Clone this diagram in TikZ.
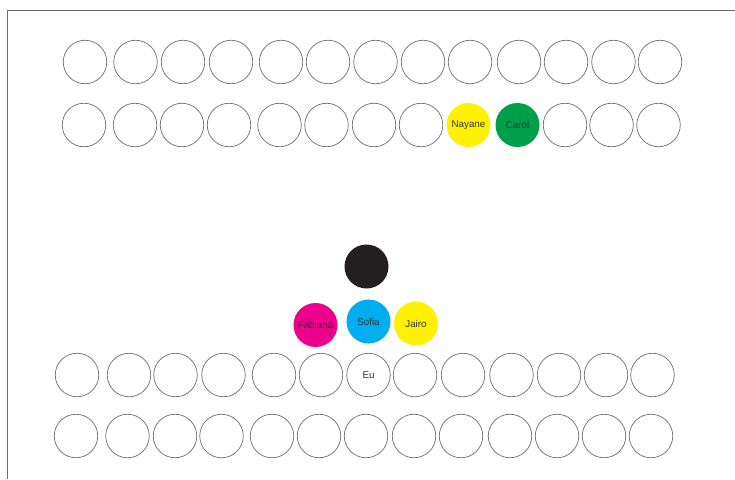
\documentclass[tikz,border=0pt]{standalone}
\usepackage{fontspec}
\setmainfont{Liberation Sans}
\definecolor{seatline}{HTML}{6E6E6E}
\definecolor{frameline}{HTML}{6A6A6A}
\definecolor{cyel}{HTML}{FFF200}
\definecolor{cgreen}{HTML}{00A04A}
\definecolor{cmag}{HTML}{EC008C}
\definecolor{ccyan}{HTML}{00AEEF}
\definecolor{cblack}{HTML}{231F20}
\definecolor{txt}{HTML}{333333}
\begin{document}
\begin{tikzpicture}[x=1pt,y=-1pt,
  seat/.style={circle,draw=seatline,line width=0.7pt,minimum size=43.5pt,inner sep=0pt,font=\fontsize{9.8}{11}\selectfont,text=txt},
  filled/.style={circle,draw=none,minimum size=44pt,inner sep=0pt,font=\fontsize{9.8}{11}\selectfont,text=txt}]
\useasboundingbox (0,0) rectangle (735,479);
\fill[white] (0,0) rectangle (735,479);
\coordinate (tl) at (7,10);
\coordinate (tr) at (735,10);
\coordinate (bl) at (7,479);
\draw[frameline,line width=1pt] (bl) -- (tl) -- (tr);
% row 1
\foreach \x [count=\i] in {85,135.5,183,231,281,328,375.5,423,470,519,566,613.5,660}
  \node[seat] (a\i) at (\x,62) {};
% row 2
\foreach \x [count=\i] in {84,135,182,229,279.5,326.5,374,421}
  \node[seat] (b\i) at (\x,125) {};
\node[filled,fill=cyel] (nayane) at (468.5,125) {Nayane};
\node[filled,fill=cgreen] (carol) at (517.5,125) {Carol};
\foreach \x [count=\i from 11] in {565,611.5,658.5}
  \node[seat] (b\i) at (\x,125) {};
% middle group
\node[filled,fill=cblack] (top) at (366.5,266.5) {};
\node[filled,fill=cmag] (fabiana) at (315.5,325) {Fabiana};
\node[filled,fill=ccyan] (sofia) at (368.5,321.5) {Sofia};
\node[filled,fill=cyel] (jairo) at (416,323.5) {Jairo};
% row 3
\foreach \x [count=\i] in {77,129,175.5,223.5,274,321}
  \node[seat] (c\i) at (\x,375) {};
\node[seat] (eu) at (368.5,375) {Eu};
\foreach \x [count=\i from 8] in {415,463,511.5,559,606,652.5}
  \node[seat] (c\i) at (\x,375) {};
% row 4
\foreach \x [count=\i] in {76,127.5,175,221.5,272,319,366,414,461,510,557,604,651}
  \node[seat] (d\i) at (\x,436) {};
\end{tikzpicture}
\end{document}
